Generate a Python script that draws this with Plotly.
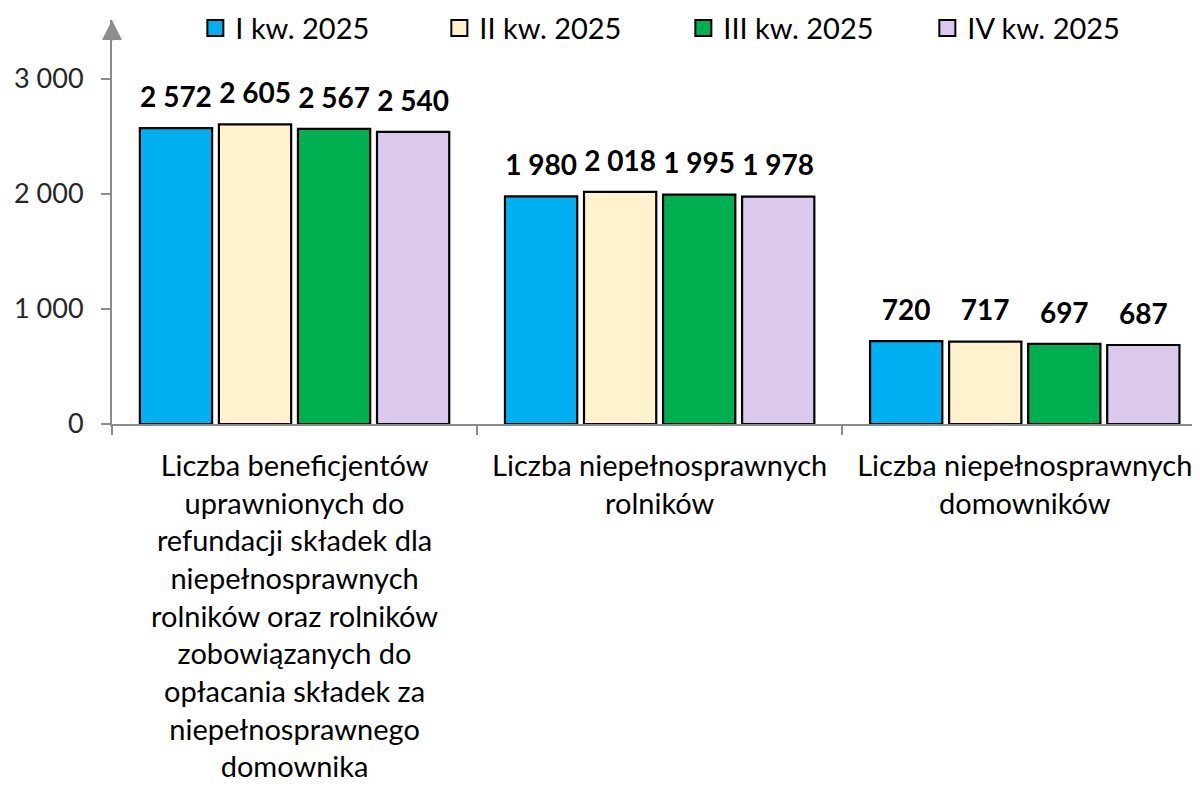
import plotly.graph_objects as go

categories = [
    "Liczba beneficjentów<br>uprawnionych do<br>refundacji składek dla<br>niepełnosprawnych<br>rolników oraz rolników<br>zobowiązanych do<br>opłacania składek za<br>niepełnosprawnego<br>domownika",
    "Liczba niepełnosprawnych<br>rolników",
    "Liczba niepełnosprawnych<br>domowników",
]
series_names = ["I kw. 2025", "II kw. 2025", "III kw. 2025", "IV kw. 2025"]
q1 = [2572, 1980, 720]
q2 = [2605, 2018, 717]
q3 = [2567, 1995, 697]
q4 = [2540, 1978, 687]
series_values = [q1, q2, q3, q4]
colors = ["#00B0F0", "#FFF2CC", "#00B050", "#DAC9EC"]
y_ticks = [0, 1000, 2000, 3000]

FONT = "Lato"
AXIS = "#8C8C8C"

fig = go.Figure()
for i, (name, vals, col) in enumerate(zip(series_names, series_values, colors)):
    g = str(i)
    fig.add_trace(go.Bar(
        x=categories, y=vals, name=name, showlegend=False, legendgroup=name,
        offsetgroup=g,
        marker=dict(color=col, line=dict(color="#000000", width=2.2)),
        hoverinfo="x+y",
    ))
    # value labels placed above each bar
    fig.add_trace(go.Scatter(
        x=categories, y=vals, mode="markers+text", showlegend=False, legendgroup=name,
        offsetgroup=g, cliponaxis=False, hoverinfo="skip",
        marker=dict(size=21, opacity=0, color=col),
        texttemplate="<b>%{y:,d}</b>", textposition="top center",
        textfont=dict(family=FONT, size=28, color="#000000"),
    ))
for i, (name, col) in enumerate(zip(series_names, colors)):
    fig.add_trace(go.Scatter(
        x=[None], y=[None], mode="markers", name=name, legendgroup=name, offsetgroup=str(i),
        marker=dict(symbol="square", size=17, color=col, line=dict(color="#000000", width=2)),
    ))

fig.update_layout(
    width=1192, height=779,
    margin=dict(l=104, r=0, t=12, b=363, autoexpand=False),
    paper_bgcolor="white", plot_bgcolor="white",
    separators=", ",
    barmode="group", bargap=0.134, bargroupgap=0.086,
    scattermode="group", scattergap=0.134,
    font=dict(family=FONT, size=29, color="#000000"),
    legend=dict(orientation="h", x=0.0766, xanchor="left", y=0.98, yanchor="middle",
                font=dict(family=FONT, size=29, color="#000000"),
                itemwidth=30, entrywidth=199, entrywidthmode="pixels",
                bgcolor="rgba(0,0,0,0)"),
    xaxis=dict(range=[-0.5, 2.48], showline=True, linecolor=AXIS, linewidth=2,
               ticks="outside", tickson="boundaries", ticklen=9, tickwidth=1.5, tickcolor=AXIS,
               showgrid=False, tickfont=dict(family=FONT, size=29, color="#000000"),
               ticklabelstandoff=15, automargin=False),
    yaxis=dict(range=[0, 3513], showline=True, linecolor=AXIS, linewidth=2,
               ticks="outside", ticklen=9, tickwidth=1.5, tickcolor=AXIS,
               tickvals=y_ticks, tickformat=",d", showgrid=False, zeroline=False,
               tickfont=dict(family=FONT, size=27, color="#262626"),
               ticklabelstandoff=12, automargin=False),
)
fig.add_annotation(x=0, y=1, xref="paper", yref="paper", ax=0, ay=22, text="",
                   showarrow=True, arrowhead=2, arrowsize=2, arrowwidth=2, arrowcolor=AXIS)

fig.write_html("out.html")
